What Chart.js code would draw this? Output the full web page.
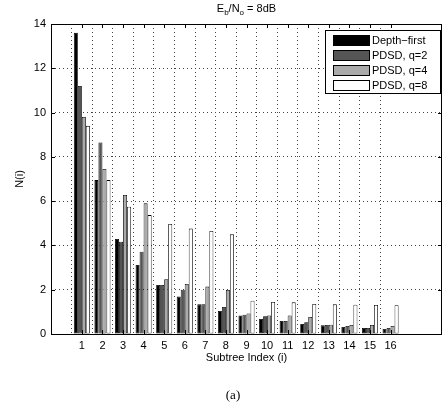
<!DOCTYPE html>
<html>
<head>
<meta charset="utf-8">
<script src="https://cdn.jsdelivr.net/npm/chart.js@4"></script>
<style>
  html, body { margin: 0; padding: 0; background: #fff; }
  canvas { display: block; }
</style>
</head>
<body>
<canvas id="subtreeChart" width="443" height="412"></canvas>
<script>
// subtree index on x, N(i) on y
const subtreeIdx = [1, 2, 3, 4, 5, 6, 7, 8, 9, 10, 11, 12, 13, 14, 15, 16];
const depthFirst = [13.6, 6.95, 4.29, 3.12, 2.21, 1.69, 1.34, 1.04, 0.84, 0.68, 0.59, 0.45, 0.39, 0.32, 0.27, 0.23];
const pdsdQ2 = [11.2, 8.65, 4.17, 3.72, 2.21, 2.0, 1.34, 1.22, 0.87, 0.8, 0.59, 0.53, 0.41, 0.36, 0.27, 0.27];
const pdsdQ4 = [9.8, 7.45, 6.28, 5.9, 2.47, 2.26, 2.14, 1.99, 0.93, 0.84, 0.84, 0.77, 0.42, 0.41, 0.41, 0.36];
const pdsdQ8 = [9.4, 6.95, 5.75, 5.37, 4.97, 4.76, 4.65, 4.5, 1.5, 1.45, 1.43, 1.36, 1.34, 1.32, 1.31, 1.3];
const seriesNames = ['Depth\u2212first', 'PDSD, q=2', 'PDSD, q=4', 'PDSD, q=8'];
const seriesColors = ['#000000', '#555555', '#aaaaaa', '#ffffff'];
const yTickLabels = [0, 2, 4, 6, 8, 10, 12, 14];

const FONT = 'Liberation Sans, Arial, Helvetica, sans-serif';

function makeSet(i, values) {
    return {
        label: seriesNames[i],
        data: subtreeIdx.map((x, k) => ({ x: x, y: values[k] })),
        backgroundColor: seriesColors[i],
        borderColor: '#000',
        borderWidth: 0.8,
        borderSkipped: false,
        categoryPercentage: 0.78,
        barPercentage: 1.0
    };
}

// frame, inward ticks, legend and the texts round the plot
const decorations = {
    id: 'decorations',
    afterDraw(chart) {
        const c = chart.ctx;
        const a = chart.chartArea;
        const xs = chart.scales.x, ys = chart.scales.y;
        c.save();
        c.strokeStyle = '#000';
        c.lineWidth = 1;
        c.strokeRect(Math.round(a.left) + 0.5, Math.round(a.top) + 0.5,
                     Math.round(a.right - a.left) - 1, Math.round(a.bottom - a.top));

        // small ticks inside the box
        c.beginPath();
        subtreeIdx.forEach(v => {
            const px = Math.round(xs.getPixelForValue(v)) + 0.5;
            c.moveTo(px, a.bottom); c.lineTo(px, a.bottom - 4);
            c.moveTo(px, a.top); c.lineTo(px, a.top + 4);
        });
        yTickLabels.forEach(v => {
            const py = Math.round(ys.getPixelForValue(v)) + 0.5;
            c.moveTo(a.left, py); c.lineTo(a.left + 4, py);
            c.moveTo(a.right, py); c.lineTo(a.right - 4, py);
        });
        c.stroke();

        // title E_b/N_o = 8dB
        c.fillStyle = '#000';
        c.textBaseline = 'alphabetic';
        c.textAlign = 'left';
        const parts = [['E', 0], ['b', 1], ['/N', 0], ['o', 1], [' = 8dB', 0]];
        const big = '11px ' + FONT, small = '8px ' + FONT;
        let w = 0;
        parts.forEach(p => { c.font = p[1] ? small : big; w += c.measureText(p[0]).width; });
        let tx = (a.left + a.right) / 2 - w / 2;
        parts.forEach(p => {
            c.font = p[1] ? small : big;
            c.fillText(p[0], tx, p[1] ? 15 : 12);
            tx += c.measureText(p[0]).width;
        });

        // axis titles
        c.font = '11px ' + FONT;
        c.textAlign = 'center';
        c.textBaseline = 'middle';
        c.fillText('Subtree Index (i)', (a.left + a.right) / 2, 358);
        c.save();
        c.translate(20, (a.top + a.bottom) / 2);
        c.rotate(-Math.PI / 2);
        c.fillText('N(i)', 0, 0);
        c.restore();

        c.font = '13px Liberation Serif, Times New Roman, serif';
        c.fillText('(a)', 233, 396);

        // legend
        const lx = 325, ly = 30, lw = 115, lh = 63;
        c.fillStyle = '#fff';
        c.fillRect(lx, ly, lw, lh);
        c.lineWidth = 1;
        c.strokeRect(lx + 0.5, ly + 0.5, lw, lh);
        c.font = '11px ' + FONT;
        c.textAlign = 'left';
        chart.data.datasets.forEach((ds, i) => {
            const cy = ly + 10 + i * 15;
            c.fillStyle = ds.backgroundColor;
            c.fillRect(333, cy - 5, 36, 10);
            c.strokeStyle = '#000';
            c.strokeRect(333.5, cy - 4.5, 36, 10);
            c.fillStyle = '#000';
            c.fillText(ds.label, 372, cy + 1);
        });
        c.restore();
    }
};

const ctx = document.getElementById('subtreeChart').getContext('2d');
const chart = new Chart(ctx, {
    type: 'bar',
    data: {
        datasets: [
            makeSet(0, depthFirst),
            makeSet(1, pdsdQ2),
            makeSet(2, pdsdQ4),
            makeSet(3, pdsdQ8)
        ]
    },
    options: {
        responsive: false,
        animation: false,
        layout: { padding: { top: 24, right: 1, left: 0, bottom: 0 } },
        plugins: {
            legend: { display: false },
            title: { display: false },
            tooltip: { enabled: false }
        },
        scales: {
            x: {
                type: 'linear',
                min: 0,
                max: 18,
                afterFit(s) { s.height = 78; },
                ticks: {
                    stepSize: 1,
                    autoSkip: false,
                    maxRotation: 0,
                    padding: 5,
                    color: '#000',
                    font: { family: FONT, size: 11 },
                    callback: v => (v >= 1 && v <= 16) ? String(v) : ''
                },
                grid: {
                    drawTicks: false,
                    lineWidth: 1,
                    color: c => (c.tick && c.tick.value >= 1 && c.tick.value <= 16) ? '#444' : 'rgba(0,0,0,0)'
                },
                border: { display: false, dash: [1, 3] }
            },
            y: {
                min: 0,
                max: 14,
                afterFit(s) { s.width = 51; },
                afterBuildTicks(s) { s.ticks = yTickLabels.map(v => ({ value: v })); },
                ticks: {
                    padding: 5,
                    color: '#000',
                    font: { family: FONT, size: 11 }
                },
                grid: {
                    drawTicks: false,
                    lineWidth: 1,
                    color: c => (c.tick && c.tick.value > 0 && c.tick.value < 14) ? '#444' : 'rgba(0,0,0,0)'
                },
                border: { display: false, dash: [1, 3] }
            }
        }
    },
    plugins: [decorations]
});
</script>
</body>
</html>
